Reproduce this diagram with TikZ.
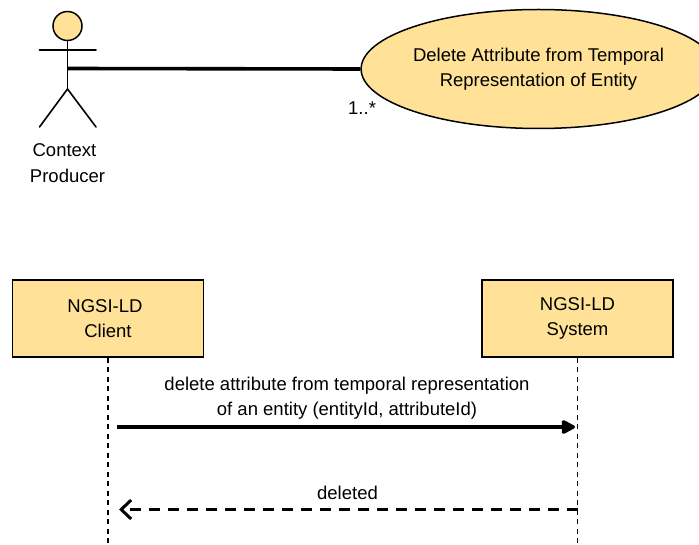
\documentclass[tikz,border=0pt]{standalone}
\usepackage{fontspec}
\setmainfont{Liberation Sans}
\usetikzlibrary{arrows.meta,shapes.geometric}
\definecolor{fillc}{HTML}{FFE298}
\tikzset{
  x=1pt,y=-1pt,
  lab/.style={font=\fontsize{18.5}{25.5}\selectfont,align=center,inner sep=0pt,text=black},
  actorline/.style={line width=1.6pt,line cap=round},
  boxst/.style={draw=black,fill=fillc,line width=1.5pt,minimum width=191pt,minimum height=77pt,inner sep=0pt,font=\fontsize{18.5}{25.5}\selectfont,align=center},
  usecase/.style={ellipse,draw=black,fill=fillc,line width=1.5pt,minimum width=324pt,minimum height=119pt,inner sep=0pt,font=\fontsize{18.5}{25.5}\selectfont,align=center},
  lifeline/.style={line width=1.4pt,dash pattern=on 5pt off 4.5pt},
  assoc/.style={line width=3.6pt},
  msg/.style={line width=3.2pt,-{Triangle[length=15pt,width=15pt,round]}},
  reply/.style={line width=3.2pt,dash pattern=on 11pt off 8pt,-{Straight Barb[length=10pt,width=19pt,line width=3pt]}}
}
\begin{document}
\begin{tikzpicture}
\useasboundingbox (0,0) rectangle (699,545);
% actor
\node[circle,draw=black,fill=fillc,line width=1.5pt,minimum size=29pt,inner sep=0pt] (head) at (67.5,26) {};
\coordinate (armL) at (39.5,50);
\coordinate (armR) at (96,50);
\coordinate (hip) at (67.5,89);
\coordinate (legL) at (39.5,127);
\coordinate (legR) at (96,127);
\coordinate (hand) at (67.5,68.5);
\draw[actorline] (head.south) -- (hip);
\draw[actorline] (armL) -- (armR);
\draw[actorline] (legL) -- (hip) -- (legR);
\node[lab] (actorname) at (67.5,163) {\hspace*{-6pt}Context\\Producer};
% use case
\node[usecase] (uc) at (538.5,69) {Delete Attribute from Temporal\\Representation of Entity};
\draw[assoc] (hand) -- (uc.west);
\node[lab,anchor=base west] (mult) at (348,115) {1..*};
% boxes
\node[boxst] (client) at (108,318.5) {\hspace*{-6pt}NGSI-LD\\Client};
\node[boxst] (system) at (577.5,318.5) {NGSI-LD\\System};
\coordinate (clientEnd) at (108,545);
\coordinate (systemEnd) at (577.5,545);
\draw[lifeline] (client.south) -- (clientEnd);
\draw[lifeline] (system.south) -- (systemEnd);
\coordinate (m1s) at (117,427);
\coordinate (m1e) at (575,427);
\coordinate (m2s) at (577.5,509.5);
\coordinate (m2e) at (119,509.5);
\draw[msg] (m1s) -- (m1e);
\draw[reply] (m2s) -- (m2e);
\node[lab] (m1lab) at (347,398) {delete attribute from temporal representation\\of an entity (entityId, attributeId)};
\node[lab,anchor=base] (m2lab) at (347.5,499.5) {deleted};
\end{tikzpicture}
\end{document}
